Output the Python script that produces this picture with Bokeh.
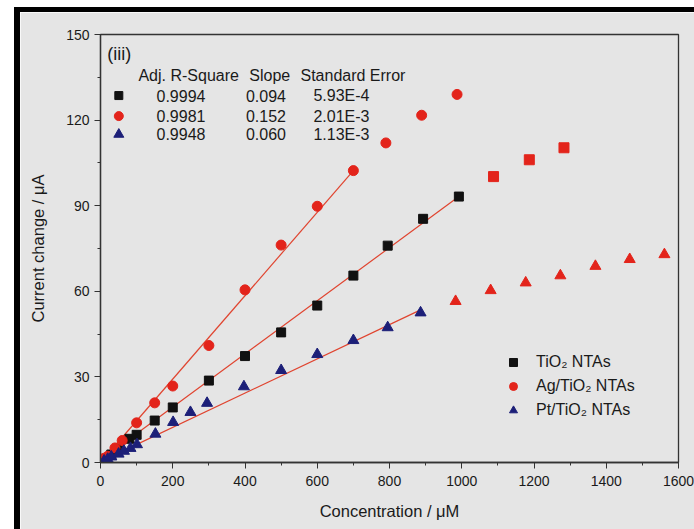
from bokeh.plotting import figure
from bokeh.models import SingleIntervalTicker, Legend, LegendItem, Label
from bokeh.embed import file_html
from bokeh.resources import INLINE

# ---------------- data ----------------
tio2_x = [10, 30, 50, 80, 100, 150, 200, 300, 400, 500, 600, 700, 795, 893, 992]
tio2_y = [1.0, 2.8, 4.8, 8.3, 9.7, 14.7, 19.3, 28.7, 37.3, 45.6, 55.0, 65.5, 76.0, 85.4, 93.2]
tio2_sat_x = [1088, 1187, 1283]
tio2_sat_y = [100.2, 106.1, 110.3]

ag_x = [10, 20, 40, 60, 100, 150, 200, 300, 400, 500, 600, 700]
ag_y = [1.5, 2.2, 5.1, 7.7, 13.9, 20.9, 26.8, 41.0, 60.5, 76.2, 89.8, 102.3]
ag_sat_x = [790, 889, 987]
ag_sat_y = [112.0, 121.7, 129.0]

pt_x = [10, 20, 30, 50, 65, 83, 101, 152, 201, 249, 295, 397, 500, 600, 700, 795, 886]
pt_y = [0.6, 1.2, 2.0, 3.0, 4.0, 5.0, 6.3, 10.0, 14.1, 17.6, 20.8, 26.6, 32.3, 37.9, 42.8, 47.3, 52.5]
pt_sat_x = [983, 1080, 1177, 1273, 1370, 1465, 1561]
pt_sat_y = [56.5, 60.3, 63.0, 65.5, 68.8, 71.2, 72.9]

fit_tio2_x = [0, 992]
fit_tio2_y = [0.8, 93.2]
fit_ag_x = [0, 700]
fit_ag_y = [0.0, 102.3]
fit_pt_x = [0, 886]
fit_pt_y = [0.3, 53.5]

series_names = ["TiO₂ NTAs", "Ag/TiO₂ NTAs", "Pt/TiO₂ NTAs"]
adj_r2 = ["0.9994", "0.9981", "0.9948"]
slopes = ["0.094", "0.152", "0.060"]
std_err = ["5.93E-4", "2.01E-3", "1.13E-3"]
table_header = ["Adj. R-Square", "Slope", "Standard Error"]
panel_tag = "(iii)"

BLACK = "#111111"
RED = "#e3241b"
NAVY = "#1c1f78"
LINE = "#e0442f"
BG = "#e5e5e5"
AX = "#333333"
TXT = "#1a1a1a"
FONT = "Liberation Sans"

p = figure(frame_width=578, frame_height=428,
           min_border_left=80, min_border_right=16, min_border_top=22, min_border_bottom=67,
           x_range=(0, 1600), y_range=(0, 150),
           output_backend="svg", toolbar_location=None,
           background_fill_color=BG, border_fill_color=BG,
           outline_line_color=AX, outline_line_width=1.3)
p.styles = {"margin-left": "14px", "margin-top": "7px",
            "border-left": "6px solid black", "border-top": "5px solid black"}
p.grid.visible = False

p.xaxis.ticker = SingleIntervalTicker(interval=200, num_minor_ticks=2)
p.yaxis.ticker = SingleIntervalTicker(interval=30, num_minor_ticks=2)
p.xaxis.axis_label = "Concentration / μM"
p.yaxis.axis_label = "Current change / μA"
for ax in (p.xaxis, p.yaxis):
    ax.axis_line_color = AX
    ax.axis_line_width = 1.3
    ax.major_tick_line_color = AX
    ax.minor_tick_line_color = AX
    ax.major_tick_out = 6
    ax.major_tick_in = 0
    ax.minor_tick_out = 3
    ax.minor_tick_in = 0
    ax.major_label_text_font = FONT
    ax.major_label_text_font_size = "14px"
    ax.major_label_text_color = TXT
    ax.axis_label_text_font = FONT
    ax.axis_label_text_font_size = "16.5px"
    ax.axis_label_text_font_style = "normal"
    ax.axis_label_text_color = TXT
p.xaxis.major_label_standoff = 7
p.xaxis.axis_label_standoff = 13
p.yaxis.major_label_standoff = 5
p.yaxis.axis_label_standoff = 16

# fit lines
p.line(fit_tio2_x, fit_tio2_y, line_color=LINE, line_width=1.2)
p.line(fit_ag_x, fit_ag_y, line_color=LINE, line_width=1.2)
p.line(fit_pt_x, fit_pt_y, line_color=LINE, line_width=1.2)

# points
r_t = p.scatter(tio2_x, tio2_y, marker="square", size=9, color=BLACK)
p.scatter(tio2_sat_x, tio2_sat_y, marker="square", size=10, color=RED)
r_a = p.scatter(ag_x + ag_sat_x, ag_y + ag_sat_y, marker="circle", size=10, color=RED)
r_p = p.scatter(pt_x, pt_y, marker="triangle", size=11, color=NAVY)
p.scatter(pt_sat_x, pt_sat_y, marker="triangle", size=11, color=RED)

legend = Legend(items=[LegendItem(label=series_names[0], renderers=[r_t]),
                       LegendItem(label=series_names[1], renderers=[r_a]),
                       LegendItem(label=series_names[2], renderers=[r_p])],
                location=(403, 42), padding=0, margin=0, spacing=4,
                glyph_width=20, glyph_height=20, label_height=20, label_standoff=13,
                background_fill_alpha=0, border_line_alpha=0,
                label_text_font=FONT, label_text_font_size="16px", label_text_color=TXT)
p.add_layout(legend, "center")

# panel tag and fit table
p.add_layout(Label(x=18.5, y=143.3, text=panel_tag, text_font=FONT, text_font_size="18px",
                   text_baseline="middle", text_color=TXT))
hdr_x = [105, 412, 553.6]
for hx, ht in zip(hdr_x, table_header):
    p.add_layout(Label(x=hx, y=135.6, text=ht, text_font=FONT, text_font_size="16px",
                       text_baseline="middle", text_color=TXT))
row_y = [128.6, 121.4, 115.0]
markers = ["square", "circle", "triangle"]
mcolors = [BLACK, RED, NAVY]
msizes = [8, 9, 10]
for i in range(3):
    p.scatter([50.7], [row_y[i]], marker=markers[i], size=msizes[i], color=mcolors[i])
    for cx, txt in zip([222.8, 458, 667], [adj_r2[i], slopes[i], std_err[i]]):
        p.add_layout(Label(x=cx, y=row_y[i], text=txt, text_font=FONT, text_font_size="16px",
                           text_align="center", text_baseline="middle", text_color=TXT))

open("out.html", "w").write(file_html(p, INLINE))
